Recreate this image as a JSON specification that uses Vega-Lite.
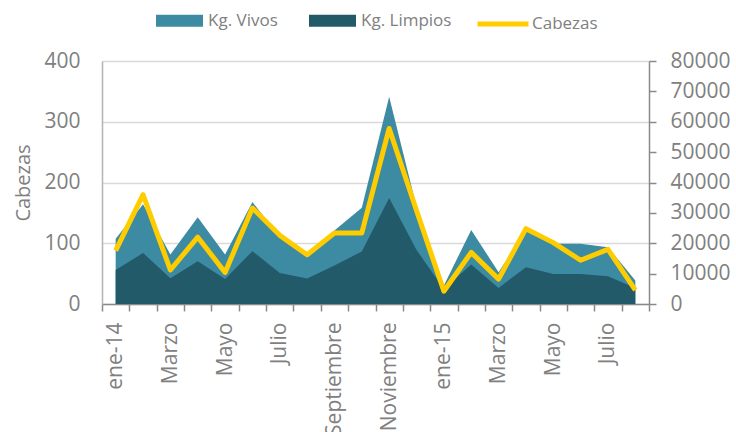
{
  "$schema": "https://vega.github.io/schema/vega-lite/v6.json",
  "width": 547,
  "height": 243,
  "autosize": {"type": "none"},
  "padding": {"left": 102, "top": 61, "right": 87, "bottom": 128},
  "background": "white",
  "config": {
    "view": {"stroke": null},
    "font": "Open Sans",
    "axis": {"labelFont": "Open Sans", "labelColor": "#808080", "titleFont": "Open Sans", "titleColor": "#808080", "titleFontWeight": "normal"},
    "legend": {"labelFont": "Open Sans", "labelColor": "#808080"}
  },
  "data": {
    "values": [
      {"i": 0, "cabezas": 88, "vivos": 21450, "limpios": 11200},
      {"i": 1, "cabezas": 180, "vivos": 32800, "limpios": 16800},
      {"i": 2, "cabezas": 56, "vivos": 16300, "limpios": 8470},
      {"i": 3, "cabezas": 110, "vivos": 28600, "limpios": 14100},
      {"i": 4, "cabezas": 52, "vivos": 16300, "limpios": 8250},
      {"i": 5, "cabezas": 158, "vivos": 33560, "limpios": 17400},
      {"i": 6, "cabezas": 113, "vivos": 22000, "limpios": 10200},
      {"i": 7, "cabezas": 81, "vivos": 16800, "limpios": 8360},
      {"i": 8, "cabezas": 117, "vivos": 24200, "limpios": 12650},
      {"i": 9, "cabezas": 117, "vivos": 31700, "limpios": 17300},
      {"i": 10, "cabezas": 289, "vivos": 68200, "limpios": 34900},
      {"i": 11, "cabezas": 154, "vivos": 32000, "limpios": 17800},
      {"i": 12, "cabezas": 21, "vivos": 6050, "limpios": 4950},
      {"i": 13, "cabezas": 85, "vivos": 24400, "limpios": 13000},
      {"i": 14, "cabezas": 41, "vivos": 10450, "limpios": 5280},
      {"i": 15, "cabezas": 124, "vivos": 24200, "limpios": 12100},
      {"i": 16, "cabezas": 101, "vivos": 19800, "limpios": 9900},
      {"i": 17, "cabezas": 72, "vivos": 19800, "limpios": 9900},
      {"i": 18, "cabezas": 90, "vivos": 18700, "limpios": 9130},
      {"i": 19, "cabezas": 23, "vivos": 7700, "limpios": 5280}
    ]
  },
  "resolve": {"scale": {"y": "independent"}, "axis": {"x": "independent"}},
  "layer": [
    {
      "layer": [
        {
          "mark": {"type": "area"},
          "encoding": {
            "x": {"field": "i", "type": "quantitative",
              "scale": {"domain": [-0.5, 19.5], "nice": false, "zero": false},
              "axis": {"orient": "bottom", "values": [-0.5,0.5,1.5,2.5,3.5,4.5,5.5,6.5,7.5,8.5,9.5,10.5,11.5,12.5,13.5,14.5,15.5,16.5,17.5,18.5,19.5], "tickCount": 40,
                "labels": false, "grid": false, "title": null, "domainColor": "#898989", "tickColor": "#898989", "tickSize": 7, "domainWidth": 1.5, "tickWidth": 1.5}},
            "y": {"field": "vivos", "type": "quantitative", "stack": null,
              "scale": {"domain": [0, 80000], "nice": false},
              "axis": {"orient": "right", "values": [0,10000,20000,30000,40000,50000,60000,70000,80000], "tickCount": 20, "format": "d", "grid": false, "title": null,
                "labelFontSize": 21, "labelPadding": 14, "tickSize": 7, "tickColor": "#898989", "domainColor": "#898989", "domainWidth": 1.5, "tickWidth": 1.5, "labelFlush": false, "labelOverlap": false}},
            "color": {"datum": "Kg. Vivos", "type": "nominal",
              "scale": {"domain": ["Kg. Vivos", "Kg. Limpios"], "range": ["#3C8BA2", "#235A69"]},
              "legend": {"orient": "none", "legendX": 54, "legendY": -64, "direction": "horizontal", "title": null,
                "symbolType": "M-1,-0.255H1V0.255H-1Z", "symbolSize": 2209, "symbolStrokeWidth": 0,
                "labelFontSize": 17, "labelOffset": 5, "columnPadding": 31, "padding": 0}}
          }
        },
        {
          "mark": {"type": "area"},
          "encoding": {
            "x": {"field": "i", "type": "quantitative"},
            "y": {"field": "limpios", "type": "quantitative", "stack": null},
            "color": {"datum": "Kg. Limpios", "type": "nominal"}
          }
        }
      ]
    },
    {
      "mark": {"type": "line", "strokeWidth": 5, "strokeJoin": "round"},
      "encoding": {
        "x": {"field": "i", "type": "quantitative",
          "axis": {"orient": "bottom", "values": [0,2,4,6,8,10,12,14,16,18], "tickCount": 40, "ticks": false, "tickSize": 0, "domain": false, "grid": false, "title": null,
            "labelAngle": -90, "labelAlign": "right", "labelBaseline": "middle", "labelPadding": 18, "labelFontSize": 21, "labelOverlap": false, "labelFlush": false,
            "labelExpr": "datum.value == 0 ? 'ene-14' : datum.value == 12 ? 'ene-15' : ['Enero','Febrero','Marzo','Abril','Mayo','Junio','Julio','Agosto','Septiembre','Octubre','Noviembre','Diciembre'][datum.value % 12]"}},
        "y": {"field": "cabezas", "type": "quantitative",
          "scale": {"domain": [0, 400], "nice": false},
          "axis": {"orient": "left", "values": [0,100,200,300,400], "tickCount": 20, "title": "Cabezas", "titleFontSize": 20, "titlePadding": 10,
            "labelFontSize": 21, "labelPadding": 22, "tickSize": 0, "ticks": false, "domainColor": "#b3b3b3", "domainWidth": 1.5, "labelFlush": false,
            "grid": true, "gridColor": "#d9d9d9", "gridWidth": 1.5}},
        "stroke": {"datum": "Cabezas", "type": "nominal",
          "scale": {"domain": ["Cabezas"], "range": ["#FFCC00"]},
          "legend": {"orient": "none", "legendX": 373, "legendY": -65, "title": null, "symbolType": "stroke", "symbolSize": 2601, "symbolStrokeWidth": 5,
            "labelFontSize": 17, "labelOffset": 1, "padding": 0}}
      }
    }
  ]
}
